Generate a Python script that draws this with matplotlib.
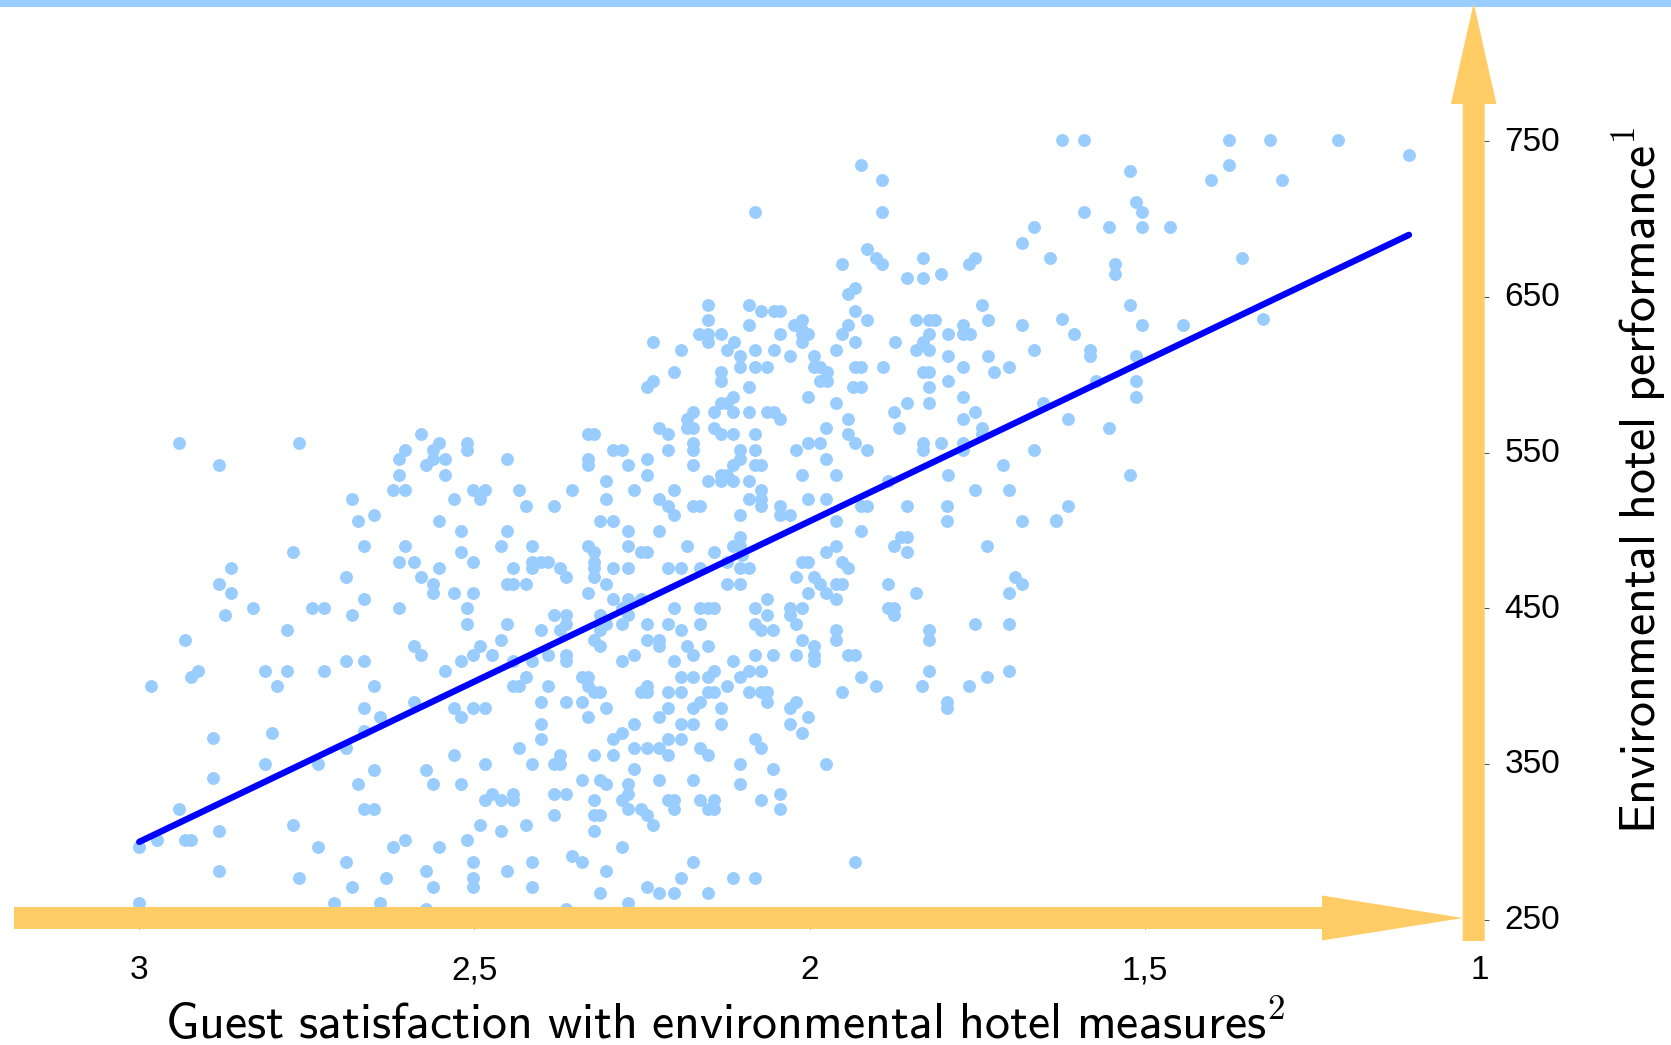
import matplotlib
matplotlib.use("Agg")
import matplotlib.pyplot as plt
from matplotlib.patches import FancyArrow, Rectangle
from matplotlib.transforms import ScaledTranslation

# Values
satisfaction = [
    2.941, 2.761, 2.881, 2.580, 2.604, 2.553, 2.562, 2.511, 2.511, 2.613, 2.562, 2.544, 2.451, 2.572, 2.613, 2.544,
    2.622, 2.604, 2.502, 2.484, 2.433, 2.682, 2.530, 2.492, 2.650, 2.673, 2.553, 2.520, 2.451, 2.664, 2.604, 2.460,
    2.770, 2.520, 2.613, 2.590, 2.502, 2.863, 2.553, 2.442, 2.692, 2.580, 2.881, 2.562, 2.451, 2.442, 2.863, 2.562,
    2.530, 2.502, 2.664, 2.831, 2.743, 2.724, 2.613, 2.511, 2.872, 2.682, 2.511, 2.451, 2.779, 2.932, 2.460, 2.590,
    2.492, 2.580, 2.502, 2.474, 2.692, 2.664, 2.520, 2.442,
    2.913, 2.923, 2.812, 2.779, 2.724, 2.544, 2.983, 2.794, 2.650, 2.442, 2.433, 2.590, 2.664, 2.530, 2.502, 2.484,
    2.641, 2.520, 2.890, 2.802, 2.664, 2.692, 2.433, 2.530, 2.812, 2.733, 2.484, 2.650, 2.572, 2.890, 2.673, 2.562,
    2.520, 2.474, 2.442, 2.484, 2.460, 2.442, 2.941, 2.664, 2.650, 2.770, 2.492, 2.881, 2.460, 3.000, 2.974, 2.932,
    2.923, 2.733, 2.622, 2.604, 2.553, 2.511, 2.692, 2.502, 2.881, 2.572, 2.451, 2.761, 2.632, 2.502, 2.682, 2.562,
    2.502, 3.000, 2.710, 2.641, 2.572,
    2.243, 2.234, 2.132, 2.090, 1.985, 1.974, 1.935, 1.924, 2.114, 2.002, 2.132, 2.123, 1.961, 2.174, 2.142, 2.114,
    2.090, 2.063, 2.053, 1.874, 2.183, 2.044, 1.943, 2.225, 2.183, 2.174, 2.142, 1.975, 1.866, 2.331, 2.322, 2.211,
    2.132, 2.114, 2.082, 1.943, 2.174, 2.002, 1.984, 1.933, 2.294, 2.280, 2.211, 2.174, 2.104, 2.082, 2.021, 1.915,
    2.331, 2.243, 2.104, 1.975, 2.331, 2.271, 2.174, 2.114, 2.082, 2.072, 2.132, 2.123, 2.243, 2.012, 1.961, 2.303,
    2.151, 2.132, 2.114, 2.090, 2.354, 2.262, 2.202, 2.072, 2.303, 2.225, 2.090, 2.072, 2.002, 1.975, 1.883, 2.423,
    2.382, 2.211, 2.174, 2.164, 2.072, 2.044, 1.924, 1.915, 2.202, 2.104, 2.044, 2.030, 2.313, 2.294, 1.961, 2.271,
    2.225, 1.924, 2.104, 2.414, 2.331, 2.271, 2.183, 2.114, 2.104, 1.961, 1.874, 2.322, 2.252, 2.243, 2.142, 2.101,
    1.975, 2.414, 2.400, 2.391, 2.322, 2.164, 2.123, 2.012, 2.002, 1.952, 2.414, 2.372, 2.322, 2.294, 2.271, 2.211,
    2.192, 2.104, 2.090, 1.943, 2.363, 2.322, 2.021, 1.994, 2.423, 2.303, 2.123, 2.104, 1.984, 1.961, 1.952, 1.883,
    2.331, 2.002, 1.975, 2.294, 2.271, 2.252, 2.063, 1.961, 2.280, 2.202, 2.164, 2.151, 2.142, 2.082, 2.030, 2.012,
    1.883, 1.874, 2.382, 2.363, 2.313, 2.271, 2.063, 2.030, 1.874, 2.363, 2.303, 2.280, 2.243, 2.211, 2.164, 2.082,
    2.021, 2.400, 2.372, 2.313, 2.192, 2.072, 2.054, 1.961, 2.322, 2.243, 2.225, 2.012, 1.961, 2.313, 2.225, 2.183,
    2.151, 1.994, 2.391, 2.363, 2.262, 2.174, 2.082, 2.054, 2.021, 1.994, 1.943, 1.933, 2.414, 2.363, 2.280, 2.202,
    2.114, 1.994, 2.142, 2.090, 2.072,
    2.423, 2.340, 2.331, 2.192, 2.174, 2.151, 2.104, 1.924, 2.391, 2.331, 2.243, 2.123, 1.901, 2.322, 2.313, 2.252,
    2.243, 2.211, 2.192, 2.151, 2.142, 2.090, 2.072, 2.063, 1.952, 2.400, 2.363, 2.340, 2.164, 2.063, 2.021, 2.303,
    2.211, 2.174, 2.132, 2.030, 2.331, 2.225, 2.002, 2.400, 2.262, 2.192, 2.174, 2.132, 2.030, 2.280, 2.012, 2.400,
    2.294, 2.211, 2.192, 2.082, 2.262, 2.243, 2.225, 2.164, 2.072, 2.372, 2.322, 2.294, 2.211, 2.151, 2.414, 2.382,
    2.372, 2.104, 1.975, 2.262, 2.054, 2.340, 2.313, 2.225, 2.174, 2.303, 2.271, 2.104, 2.382, 2.363, 2.271, 2.044,
    2.322, 2.280, 2.211, 2.202, 2.164, 2.142, 2.072, 2.271, 2.252, 2.202, 2.151, 2.142, 2.044, 2.382, 2.322, 2.313,
    2.243, 2.423, 2.234, 2.322, 2.280, 2.354, 2.414, 2.340, 2.174, 1.933, 2.303, 2.192, 2.114, 2.082, 2.414, 2.243,
    2.313, 2.225, 2.202, 2.151, 2.271, 2.363,
    1.624, 1.591, 1.374, 1.314, 1.212, 1.106, 1.374, 1.522, 1.402, 1.295, 1.513, 1.504, 1.591, 1.665, 1.554, 1.504,
    1.462, 1.642, 1.355, 1.545, 1.545, 1.522, 1.624, 1.323, 1.605, 1.504, 1.443, 1.665, 1.582, 1.582, 1.513, 1.573,
    1.513, 1.513, 1.652,
    1.614, 1.554, 1.665, 1.522, 1.614, 1.633,
    1.924, 1.892, 2.081, 1.892, 1.683, 1.915, 1.901, 1.892, 1.952, 1.831, 1.753, 1.762, 1.804,
    1.855, 1.831, 1.933, 1.943, 2.151, 2.090, 1.743, 2.072, 2.053, 2.044, 1.933, 2.151, 2.012, 1.915, 1.841, 1.822,
    1.813, 1.734, 2.024, 2.090, 1.943, 1.771, 1.683, 2.012, 2.165, 2.151, 2.132, 2.044, 2.012, 2.002, 1.952, 1.822,
    1.794, 1.771, 1.761, 2.234, 2.151, 2.113, 2.012, 1.933, 1.873, 1.831, 2.192, 2.123, 2.081, 2.053, 1.961, 1.841,
    1.822, 2.104, 2.030, 1.994, 1.794, 1.734, 2.104, 2.081, 2.063, 1.994, 1.984, 1.933, 1.923, 1.891, 1.771, 1.702,
    2.202, 2.132, 1.974, 1.831, 1.822, 1.725,
    1.794, 1.822, 1.771, 1.855, 1.822, 1.753, 1.771, 1.743, 1.743, 1.831, 1.804, 1.831, 1.771, 1.771, 1.711, 1.794,
    1.753, 1.702,
    1.855, 1.795, 1.795, 1.683, 1.633, 1.864, 1.855, 1.855, 1.735, 1.841, 1.693, 1.683, 1.702, 1.753, 1.702, 1.822,
    1.822, 1.822, 1.702, 1.735, 1.832, 1.762, 1.795, 1.795,
]
performance = [
    556, 556, 542, 562, 552, 556, 552, 556, 552, 546, 546, 546, 546, 542, 536, 536,
    526, 526, 526, 526, 526, 520, 520, 520, 510, 506, 506, 500, 500, 490, 490, 490,
    486, 486, 480, 480, 480, 476, 476, 476, 470, 470, 466, 466, 466, 466, 460, 460,
    460, 460, 456, 450, 450, 450, 450, 450, 446, 446, 440, 440, 436, 430, 430, 426,
    426, 420, 420, 420, 416, 416, 416, 416,
    410, 406, 410, 410, 410, 410, 400, 400, 400, 400, 400, 390, 386, 386, 386, 386,
    380, 380, 367, 370, 371, 360, 360, 356, 350, 350, 350, 346, 346, 341, 337, 337,
    337, 331, 331, 327, 327, 327, 321, 321, 321, 311, 311, 307, 307, 297, 301, 301,
    301, 297, 297, 301, 297, 301, 287, 287, 281, 281, 281, 277, 277, 277, 271, 271,
    271, 261, 261, 261, 257,
    592, 596, 596, 592, 596, 596, 592, 592, 586, 586, 582, 582, 582, 576, 576, 576,
    576, 576, 576, 576, 572, 572, 572, 566, 566, 566, 566, 566, 566, 562, 562, 562,
    562, 562, 562, 562, 556, 556, 556, 556, 552, 552, 552, 552, 552, 552, 552, 552,
    546, 546, 546, 546, 542, 542, 542, 542, 542, 542, 536, 536, 536, 536, 536, 532,
    532, 532, 532, 532, 526, 526, 526, 526, 520, 520, 520, 520, 520, 520, 532, 516,
    516, 516, 516, 516, 516, 516, 516, 516, 510, 510, 510, 510, 506, 506, 506, 500,
    500, 500, 496, 490, 490, 490, 490, 490, 490, 490, 490, 486, 486, 486, 486, 484,
    486, 480, 480, 480, 480, 476, 480, 480, 480, 480, 476, 476, 476, 476, 476, 476,
    476, 476, 476, 476, 470, 470, 470, 470, 466, 466, 466, 466, 466, 466, 466, 466,
    460, 460, 460, 456, 456, 456, 456, 456, 450, 450, 450, 450, 450, 450, 450, 450,
    450, 450, 446, 446, 446, 446, 446, 446, 446, 440, 440, 440, 440, 440, 440, 440,
    440, 436, 436, 436, 436, 436, 436, 436, 430, 430, 430, 430, 430, 426, 426, 426,
    426, 426, 420, 420, 420, 420, 420, 420, 420, 420, 420, 420, 416, 416, 416, 416,
    416, 416, 410, 410, 410,
    406, 406, 406, 406, 406, 406, 406, 406, 400, 400, 400, 400, 400, 396, 396, 396,
    396, 396, 396, 396, 396, 396, 396, 396, 396, 390, 390, 390, 390, 390, 390, 386,
    386, 386, 386, 386, 380, 380, 380, 376, 376, 376, 376, 376, 376, 370, 370, 366,
    366, 366, 366, 366, 360, 360, 360, 360, 360, 356, 356, 356, 356, 356, 350, 350,
    350, 350, 350, 347, 347, 340, 340, 340, 340, 337, 337, 337, 331, 331, 331, 331,
    327, 327, 327, 327, 327, 327, 327, 321, 321, 321, 321, 321, 321, 317, 317, 317,
    317, 311, 311, 307, 297, 291, 287, 287, 287, 287, 281, 277, 277, 277, 271, 271,
    267, 267, 267, 267, 261, 257,
    751, 751, 751, 751, 751, 741, 735, 731, 725, 725, 711, 705, 705, 695, 695, 695,
    695, 675, 675, 671, 665, 645, 636, 636, 626, 632, 632, 616, 616, 612, 612, 596,
    596, 586, 582,
    572, 566, 552, 536, 516, 507,
    735, 725, 705, 705, 685, 681, 675, 671, 671, 675, 675, 671, 665,
    662, 662, 656, 652, 645, 645, 645, 641, 641, 641, 641, 635, 635, 635, 635, 635,
    635, 635, 632, 632, 632, 632, 632, 629, 626, 626, 626, 626, 626, 626, 626, 626,
    626, 626, 626, 621, 621, 621, 621, 621, 621, 621, 616, 616, 616, 616, 616, 616,
    616, 612, 612, 612, 612, 612, 605, 605, 605, 605, 605, 605, 605, 605, 605, 605,
    602, 602, 602, 602, 602, 602,
    596, 592, 586, 582, 582, 576, 572, 566, 562, 556, 556, 552, 556, 552, 542, 536,
    526, 526,
    516, 516, 506, 506, 506, 496, 496, 486, 490, 460, 470, 466, 460, 440, 440, 436,
    430, 410, 410, 406, 400, 400, 390, 386,
]

line_x = [3.0, 2.5, 2.0, 1.5, 1.106]
line_y = [300, 403, 506, 609, 690]

x_ticks = [3, 2.5, 2, 1.5, 1]
x_tick_labels = ["3", "2,5", "2", "1,5", "1"]
y_ticks = [250, 350, 450, 550, 650, 750]

light_blue = "#99CCFF"
orange = "#FFCC66"

plt.rcParams["font.family"] = "Liberation Sans"
plt.rcParams["mathtext.fontset"] = "cm"

W, H = 1671, 1045
fig = plt.figure(figsize=(W / 100, H / 100), dpi=100)

# plot area runs from the left edge to x=1 and up from y=250
ax = fig.add_axes([0, (H - 919.7) / H, 1480 / W, 919.7 / H])
ax.set_xlim(3.2077, 1)
ax.set_ylim(250, 840.9)
ax.scatter(satisfaction, performance, s=86, color=light_blue, linewidths=0, zorder=2)
ax.plot(line_x, line_y, color="#0000FF", lw=4.6, solid_capstyle="round", zorder=3)

for side in ax.spines.values():
    side.set_visible(False)
ax.yaxis.tick_right()
ax.set_xticks(x_ticks)
ax.set_xticklabels(x_tick_labels)
ax.set_yticks(y_ticks)
ax.tick_params(axis="x", length=6.5, width=0.5, pad=19, labelsize=24)
ax.tick_params(axis="y", length=6.5, width=0.5, pad=11, labelsize=24)
# y labels sit a touch above their ticks in the original
nudge = ScaledTranslation(0, 2 / 72, fig.dpi_scale_trans)
for lab in ax.get_yticklabels():
    lab.set_transform(lab.get_transform() + nudge)

ax.set_xlabel(r"$\mathsf{Guest\ satisfaction\ with\ environmental\ hotel\ measures}^{\mathsf{2}}$",
              fontsize=36, va="baseline")
ax.xaxis.set_label_coords(725 / 1480, -119 / 919.7)
ax.yaxis.set_label_position("right")
ax.set_ylabel(r"$\mathsf{Environmental\ hotel\ performance}^{\mathsf{1}}$", fontsize=36, rotation=90,
              va="baseline", ha="center", rotation_mode="anchor")
ax.yaxis.set_label_coords(1656 / 1480, (919.7 - 480) / 919.7)

# the arrows and the band on top sit in pixel space over the plot
over = fig.add_axes([0, 0, 1, 1])
over.set_xlim(0, W)
over.set_ylim(H, 0)
over.axis("off")
over.patch.set_alpha(0)
over.add_patch(Rectangle((0, 0), W, 7, color=light_blue, lw=0))
over.add_patch(FancyArrow(14, 918, 1449, 0, width=22, head_width=45, head_length=141,
                          length_includes_head=True, color=orange, lw=0))
over.add_patch(FancyArrow(1473.7, 941, 0, -938, width=22, head_width=45.5, head_length=101,
                          length_includes_head=True, color=orange, lw=0))

fig.savefig("out.png", dpi=100)
